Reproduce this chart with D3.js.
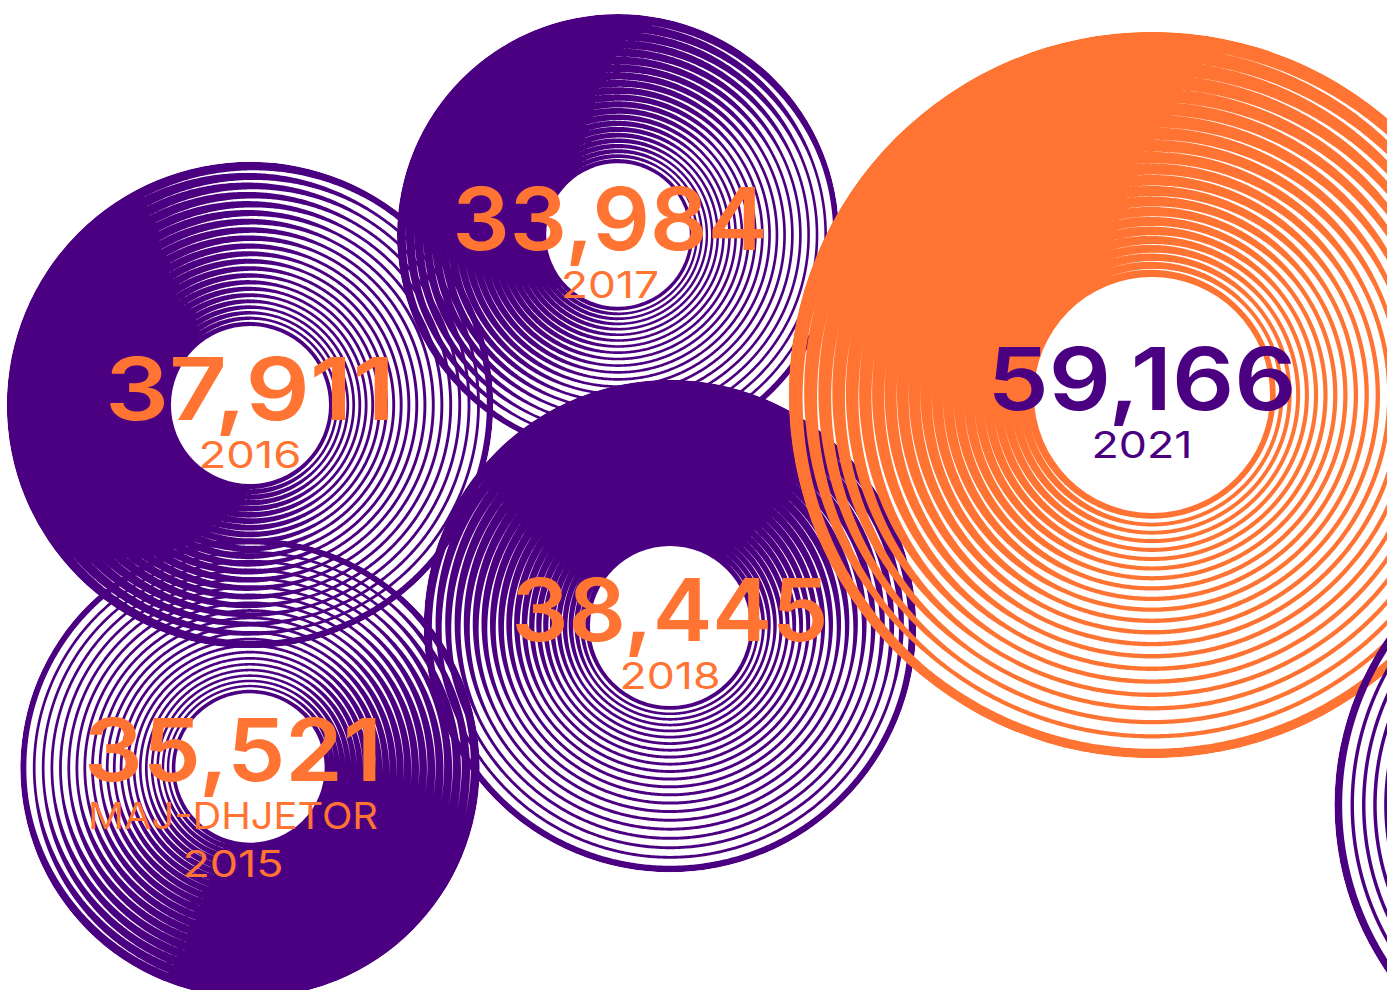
<!DOCTYPE html>
<html>
<head>
<meta charset="utf-8">
<script src="https://cdn.jsdelivr.net/npm/d3@7"></script>
<style>
  html, body { margin: 0; padding: 0; background: #ffffff; overflow: hidden; }
  svg { display: block; }
</style>
</head>
<body>
<svg id="chart" width="1387" height="990"></svg>
<script>
// ---- data -------------------------------------------------------------
const periodLabels = [["MAJ-DHJETOR", "2015"], ["2016"], ["2017"], ["2018"], ["2021"]];
const values = [35521, 37911, 33984, 38445, 59166];
const highlighted = ["2021"];
// the following record runs off the right edge; its label sits outside the frame
const trailingValue = 47000;

// ---- layout & style ---------------------------------------------------
const W = 1387, H = 990;
const PURPLE = "#4B0082", ORANGE = "#FF7433";

// centre of each disc, direction (deg, clockwise from +x) where the grooves
// merge into a solid band (inner ring -> outer ring) and the half-width of
// that solid sector, plus label offsets / widths
const layout = [
  { cx: 250,  cy: 768, solidIn: 50,  solidOut: 62,  spreadIn: 56, spreadOut: 48, labelDx: -17, numW: 298, lineW: [290, 101] },
  { cx: 250,  cy: 405, solidIn: 160, solidOut: 192, spreadIn: 72, spreadOut: 50, labelDx: 0,   numW: 290, lineW: [103] },
  { cx: 618,  cy: 235, solidIn: 188, solidOut: 232, spreadIn: 48, spreadOut: 46, labelDx: -8,  numW: 315, lineW: [98] },
  { cx: 670,  cy: 626, solidIn: 258, solidOut: 266, spreadIn: 50, spreadOut: 46, labelDx: 0,   numW: 317, lineW: [101] },
  { cx: 1152, cy: 395, solidIn: 205, solidOut: 240, spreadIn: 40, spreadOut: 42, labelDx: -10, numW: 309, lineW: [101] }
];
const trailingLayout = { cx: 1629, cy: 805, solidIn: 0, solidOut: 0, spreadIn: 40, spreadOut: 40 };

// disc radius grows linearly with the value
const rScale = d3.scaleLinear().domain([0, 60000]).range([29, 368]);
const HOLE = 0.325;      // hole radius relative to disc radius
const RINGS = 22;        // grooves per disc
const angles = d3.range(0, 721).map(d => d * Math.PI / 360);
const fmt = d3.format(",");

const svg = d3.select("#chart");
const defs = svg.append("defs");
const discs = svg.append("g");
const labels = svg.append("g");

const lerp = (a, b, t) => a + (b - a) * t;
const rad = d => d * Math.PI / 180;

function drawDisc(id, value, L, color) {
  const R = rScale(value), rh = R * HOLE;
  // groove spacing widens steadily from the hole to the rim
  const rho = d3.range(RINGS + 1).map(j => {
    const t = j / RINGS;
    return rh + (R - rh) * (2 * t + t * t) / 3;
  });

  // width of groove j at radial angle a (d3 convention: 0 = 12 o'clock)
  function groove(j, a) {
    if (j <= 0 || j >= RINGS) return 0;
    const t = j / RINGS;
    const phi = a - Math.PI / 2;
    const phiS = rad(lerp(L.solidIn, L.solidOut, t));
    const ch = Math.cos(rad(lerp(L.spreadIn, L.spreadOut, t)));
    const s = Math.max(0, (ch - Math.cos(phi - phiS)) / (1 + ch));
    const local = (rho[j + 1] - rho[j - 1]) / 2;
    const gmax = local * lerp(0.5, 0.72, t);
    return gmax * Math.min(1, Math.pow(s, 1.2) * 1.8);
  }

  const mask = defs.append("mask")
    .attr("id", id)
    .attr("maskUnits", "userSpaceOnUse")
    .attr("x", -400).attr("y", -400).attr("width", W + 800).attr("height", H + 800);
  const mg = mask.append("g").attr("transform", `translate(${L.cx},${L.cy})`);
  mg.append("circle").attr("r", R).attr("fill", "#fff");
  mg.append("circle").attr("r", rh).attr("fill", "#000");

  const grooveArea = d3.areaRadial().angle(a => a);
  mg.selectAll("path")
    .data(d3.range(1, RINGS))
    .join("path")
    .attr("fill", "#000")
    .attr("d", j => grooveArea
      .innerRadius(a => rho[j] - groove(j, a) / 2)
      .outerRadius(a => rho[j] + groove(j, a) / 2)(angles));

  discs.append("circle")
    .attr("cx", L.cx).attr("cy", L.cy).attr("r", R)
    .attr("fill", color)
    .attr("mask", `url(#${id})`);
}

values.forEach((v, i) => {
  const isHi = highlighted.includes(periodLabels[i][periodLabels[i].length - 1]);
  drawDisc("disc" + i, v, layout[i], isHi ? ORANGE : PURPLE);
});
drawDisc("discTrailing", trailingValue, trailingLayout, PURPLE);

// ---- labels -----------------------------------------------------------
values.forEach((v, i) => {
  const L = layout[i];
  const isHi = highlighted.includes(periodLabels[i][periodLabels[i].length - 1]);
  const tc = isHi ? PURPLE : ORANGE;
  const x = L.cx + L.labelDx;
  const y0 = L.cy + 15 - (periodLabels[i].length > 1 ? 2 : 0);
  labels.append("text")
    .attr("x", x).attr("y", y0)
    .attr("text-anchor", "middle")
    .attr("font-family", "Inter, 'Open Sans', sans-serif")
    .attr("font-weight", 600)
    .attr("font-size", 86)
    .attr("fill", tc)
    .attr("textLength", L.numW)
    .attr("lengthAdjust", "spacingAndGlyphs")
    .text(fmt(v));
  periodLabels[i].forEach((line, k) => {
    labels.append("text")
      .attr("x", x).attr("y", y0 + 48 * (k + 1))
      .attr("text-anchor", "middle")
      .attr("font-family", "Inter, 'Open Sans', sans-serif")
      .attr("font-weight", 400)
      .attr("font-size", 37)
      .attr("fill", tc)
      .attr("textLength", L.lineW[k])
      .attr("lengthAdjust", "spacingAndGlyphs")
      .text(line);
  });
});
</script>
</body>
</html>
